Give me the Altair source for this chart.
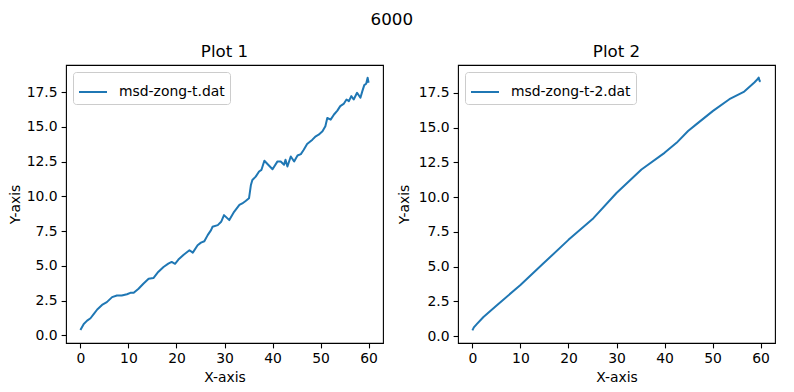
import altair as alt
import pandas as pd

# ---- data ----
x1 = [0.0, 0.7, 1.4, 2.1, 2.8, 3.5, 4.5, 5.5, 6.6, 7.6, 8.6, 9.7, 10.4, 11.1, 12.1, 13.1,
      14.2, 15.2, 16.2, 17.3, 18.3, 19.0, 19.7, 20.4, 21.5, 22.7, 23.4, 24.4, 25.1, 25.8,
      26.5, 27.2, 27.5, 28.6, 29.3, 29.9, 31.0, 32.0, 33.1, 33.7, 34.4, 35.1, 35.5, 35.8,
      36.5, 37.2, 37.7, 38.3, 39.1, 40.0, 41.0, 41.7, 42.4, 42.7, 43.1, 43.8, 44.5, 45.2,
      45.9, 46.5, 47.2, 48.3, 49.0, 49.6, 50.4, 51.0, 51.4, 52.1, 52.8, 53.5, 54.1, 54.8,
      55.4, 55.9, 56.4, 56.9, 57.6, 58.3, 58.7, 59.1, 59.5, 59.8, 60.0]
y1 = [0.38, 0.82, 1.06, 1.23, 1.54, 1.86, 2.19, 2.39, 2.75, 2.87, 2.87, 2.96, 3.06, 3.06, 3.35, 3.71,
      4.07, 4.12, 4.56, 4.92, 5.16, 5.28, 5.15, 5.45, 5.80, 6.12, 5.95, 6.48, 6.67, 6.77,
      7.21, 7.57, 7.81, 7.93, 8.17, 8.65, 8.29, 8.89, 9.38, 9.49, 9.67, 9.86, 10.82, 11.18,
      11.42, 11.79, 11.91, 12.56, 12.27, 11.95, 12.50, 12.51, 12.27, 12.63, 12.15, 12.87, 12.51, 12.94,
      13.04, 13.35, 13.76, 14.08, 14.32, 14.44, 14.68, 15.04, 15.64, 15.52, 15.89, 16.17, 16.49, 16.65,
      16.97, 16.85, 17.21, 16.97, 17.45, 17.09, 17.57, 18.00, 18.10, 18.53, 18.17]

x2 = [0.0, 0.3, 1.0, 2.3, 5.1, 10.0, 14.8, 20.0, 25.2, 30.0, 35.2, 40.0, 42.5, 44.9,
      46.6, 50.1, 53.5, 56.6, 58.7, 59.4, 59.6, 59.8, 60.0]
y2 = [0.41, 0.62, 0.89, 1.37, 2.22, 3.67, 5.23, 6.92, 8.48, 10.29, 11.98, 13.18, 13.90, 14.75,
      15.23, 16.20, 17.04, 17.59, 18.24, 18.49, 18.60, 18.35, 18.30]

x_ticks = [0, 10, 20, 30, 40, 50, 60]
y_ticks = [0.0, 2.5, 5.0, 7.5, 10.0, 12.5, 15.0, 17.5]

FONT = "DejaVu Sans"
BLUE = "#1f77b4"


def panel(xs, ys, name, title, ydom, ytitlepad):
    df = pd.DataFrame({"x": xs, "y": ys, "series": name})
    return alt.Chart(
        df,
        title=alt.Title(title, fontSize=16.7, fontWeight="normal", font=FONT,
                        color="black", anchor="middle", frame="group", offset=4.5),
    ).mark_line(strokeWidth=2, strokeJoin="round").encode(
        x=alt.X("x:Q",
                scale=alt.Scale(domain=[-3, 63], nice=False, zero=False),
                axis=alt.Axis(values=x_ticks, format="d", title="X-axis")),
        y=alt.Y("y:Q",
                scale=alt.Scale(domain=ydom, nice=False, zero=False),
                axis=alt.Axis(values=y_ticks, format=".1f", title="Y-axis",
                              titlePadding=ytitlepad)),
        color=alt.Color("series:N", scale=alt.Scale(range=[BLUE]),
                        legend=alt.Legend(title=None, orient="top-left", offset=7,
                                          padding=5, fillColor="rgba(255,255,255,0.8)",
                                          strokeColor="#cccccc", cornerRadius=3,
                                          symbolType="stroke", symbolSize=784,
                                          symbolStrokeWidth=2, labelOffset=11,
                                          labelFontSize=13.9, labelFont=FONT,
                                          labelColor="black")),
    ).properties(width=317, height=278)


p1 = panel(x1, y1, "msd-zong-t.dat", "Plot 1", [-0.55, 19.45], 3.5)
p2 = panel(x2, y2, "msd-zong-t-2.dat", "Plot 2", [-0.5, 19.5], 6.4)

chart = alt.hconcat(p1, p2, spacing=13).resolve_scale(
    color="independent"
).resolve_legend(color="independent").properties(
    title=alt.Title("6000", fontSize=16.7, fontWeight="normal", font=FONT,
                    color="black", anchor="middle", offset=15),
    padding={"left": 0, "top": 3, "right": 5, "bottom": 5},
).configure_view(
    stroke="black", strokeWidth=1.1
).configure_axis(
    domain=False, grid=False, ticks=True, tickColor="black", tickWidth=1.1,
    tickSize=4.9, labelPadding=4, labelFontSize=13.9, labelFont=FONT,
    labelColor="black", titleFontSize=13.9, titleFont=FONT,
    titleFontWeight="normal", titleColor="black", titlePadding=5,
)

chart.save("out.html", embed_options={"renderer": "svg", "actions": False})
